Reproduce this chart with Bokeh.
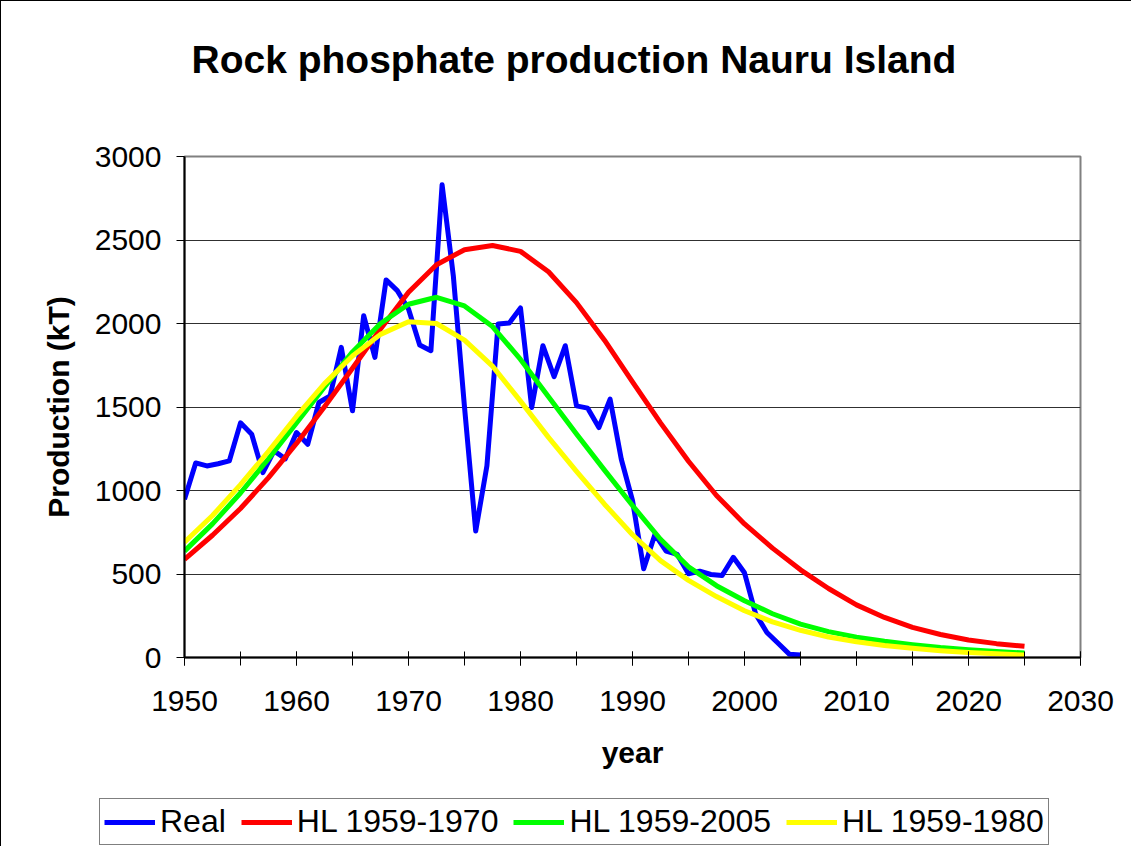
from bokeh.plotting import figure
from bokeh.models import Range1d, SingleIntervalTicker, Legend, LegendItem, Title, Spacer
from bokeh.layouts import column, row
from bokeh.embed import file_html
from bokeh.resources import INLINE

# ---- data ----
real_years = [1950, 1951, 1952, 1953, 1954, 1955, 1956, 1957, 1958, 1959,
              1960, 1961, 1962, 1963, 1964, 1965, 1966, 1967, 1968, 1969,
              1970, 1971, 1972, 1973, 1974, 1975, 1976, 1977, 1978, 1979,
              1980, 1981, 1982, 1983, 1984, 1985, 1986, 1987, 1988, 1989,
              1990, 1991, 1992, 1993, 1994, 1995, 1996, 1997, 1998, 1999,
              2000, 2001, 2002, 2003, 2004, 2005]
real_prod = [947, 1165, 1147, 1160, 1177, 1405, 1337, 1107, 1237, 1190,
             1347, 1277, 1527, 1567, 1857, 1477, 2047, 1797, 2261, 2197,
             2087, 1871, 1837, 2831, 2287, 1500, 757, 1147, 1997, 2003,
             2093, 1497, 1867, 1681, 1867, 1507, 1493, 1377, 1547, 1187,
             940, 531, 737, 637, 617, 501, 517, 497, 491, 600,
             507, 260, 150, 85, 20, 15]

hl_years = [1950, 1952.5, 1955, 1957.5, 1960, 1962.5, 1965, 1967.5, 1970, 1972.5,
            1975, 1977.5, 1980, 1982.5, 1985, 1987.5, 1990, 1992.5, 1995, 1997.5,
            2000, 2002.5, 2005, 2007.5, 2010, 2012.5, 2015, 2017.5, 2020, 2022.5, 2025]
hl_1959_1970 = [587, 732, 892, 1077, 1282, 1502, 1732, 1967, 2187, 2352,
                2442, 2467, 2432, 2310, 2125, 1900, 1650, 1405, 1175, 970,
                800, 655, 525, 413, 315, 240, 180, 138, 105, 83, 67]
hl_1959_2005 = [637, 800, 985, 1190, 1405, 1620, 1830, 2000, 2115, 2157,
                2105, 1982, 1785, 1562, 1338, 1122, 910, 708, 543, 430,
                340, 262, 200, 155, 122, 97, 77, 60, 47, 36, 27]
hl_1959_1980 = [690, 850, 1035, 1235, 1445, 1640, 1805, 1935, 2010, 2000,
                1900, 1745, 1535, 1318, 1115, 918, 735, 580, 462, 365,
                280, 213, 163, 123, 94, 72, 55, 41, 30, 22, 15]

series_names = ["Real", "HL 1959-1970", "HL 1959-2005", "HL 1959-1980"]
series_colors = ["#0000FF", "#FF0000", "#00FF00", "#FFFF00"]
series_x = [real_years, hl_years, hl_years, hl_years]
series_y = [real_prod, hl_1959_1970, hl_1959_2005, hl_1959_1980]

FONT = "Liberation Sans"
W = 1130

p = figure(width=W, height=797,
           x_range=Range1d(1950, 2030), y_range=Range1d(0, 3000),
           output_backend="svg", toolbar_location=None,
           min_border_left=183, min_border_right=W - 183 - 895,
           min_border_top=155, min_border_bottom=142,
           frame_width=895, frame_height=500)

# trailing empty line gives the title box extra height so it sits high
p.title = Title(text="Rock phosphate production Nauru Island\n", align="left",
                vertical_align="top", offset=7, standoff=62,
                text_font=FONT, text_font_size="39px",
                text_font_style="bold", text_color="black")

p.background_fill_color = "white"
p.border_fill_color = "white"
p.outline_line_color = "#808080"
p.outline_line_width = 2
p.styles = {"border-top": "1px solid black", "border-left": "1px solid black"}

# axes
xax = p.xaxis[0]
xax.ticker = SingleIntervalTicker(interval=10, num_minor_ticks=2)
xax.axis_label = "year"
yax = p.yaxis[0]
yax.ticker = SingleIntervalTicker(interval=500, num_minor_ticks=0)
yax.axis_label = "Production (kT)"
for ax in (xax, yax):
    ax.axis_line_color = "black"
    ax.axis_line_width = 2
    ax.major_tick_line_color = "black"
    ax.minor_tick_line_color = "black"
    ax.major_tick_line_width = 1
    ax.minor_tick_line_width = 1
    ax.major_label_text_font = FONT
    ax.major_label_text_font_size = "30px"
    ax.major_label_text_color = "black"
    ax.axis_label_text_font = FONT
    ax.axis_label_text_font_size = "30px"
    ax.axis_label_text_font_style = "bold"
    ax.axis_label_text_color = "black"
xax.major_tick_in = 6
xax.major_tick_out = 8
xax.minor_tick_in = 6
xax.minor_tick_out = 8
xax.major_label_standoff = 25
xax.axis_label_standoff = 22
yax.major_tick_in = 0
yax.major_tick_out = 8
yax.minor_tick_in = 0
yax.minor_tick_out = 0
yax.major_label_standoff = 15
yax.axis_label_standoff = 17

p.xgrid.visible = False
p.ygrid.grid_line_color = "#303030"
p.ygrid.grid_line_width = 1

# series
for xs, ys, c in zip(series_x, series_y, series_colors):
    p.line(xs, ys, line_color=c, line_width=5, line_join="round")

# legend strip below the chart (its lines lie outside its own ranges, so only
# the legend swatches show)
lg = figure(width=1010, height=48, x_range=Range1d(0, 1), y_range=Range1d(0, 1),
            output_backend="svg", toolbar_location=None,
            x_axis_location=None, y_axis_location=None,
            min_border_left=0, min_border_right=0,
            min_border_top=0, min_border_bottom=0)
lg.grid.visible = False
lg.outline_line_color = None
lg.background_fill_color = "white"
lg.border_fill_color = "white"

swatches = [lg.line(xs, ys, line_color=c, line_width=5)
            for xs, ys, c in zip(series_x, series_y, series_colors)]
items = [LegendItem(label=n, renderers=[r]) for n, r in zip(series_names, swatches)]
legend = Legend(items=items, orientation="horizontal", location="top_left",
                label_text_font=FONT, label_text_font_size="32px",
                label_text_color="black", glyph_width=51, label_standoff=5,
                spacing=15, padding=4, margin=0,
                border_line_color="black", border_line_width=1,
                background_fill_color="white", background_fill_alpha=1.0)
lg.add_layout(legend)

bottom = row(Spacer(width=98, height=48), lg, spacing=0,
             styles={"border-left": "1px solid black"})
layout = column(p, bottom, spacing=0)
open("out.html", "w").write(file_html(layout, INLINE))
